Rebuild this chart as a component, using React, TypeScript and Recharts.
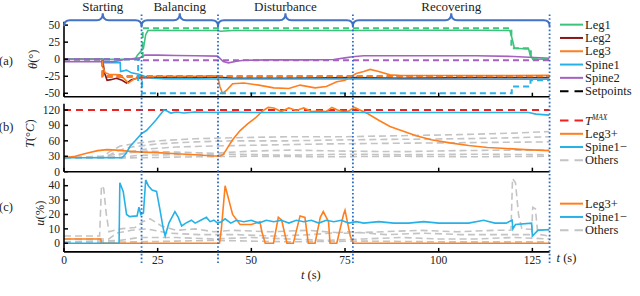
import React from "react";
import { LineChart, Line, XAxis, YAxis, ReferenceLine, ReferenceArea, Legend } from "recharts";

type Pt = [number, number];

const T_END = 129.6;
const phaseNames = ["Starting", "Balancing", "Disturbance", "Recovering"];
const phaseBounds = [0, 20.7, 41.1, 77.1, T_END];
const xTicks = [0, 25, 50, 75, 100, 125];
const angleTicks = [50, 25, 0, -25, -50];
const tempTicks = [0, 30, 60, 90, 120];
const dutyTicks = [0, 10, 20, 30, 40];

// (a) joint angles
const leg1: Pt[] = [[0,0],[19,0],[19.6,6],[20.4,11],[21.2,16],[21.8,36],[22.4,42],[25,42.5],[30,42],[41,42],[41.8,41],[45,42],[60,42],[77,42],[90,42.5],[110,42.5],[119,42],[119.6,30],[120.2,16],[124,15],[124.5,5],[125.2,0],[129.6,0]];
const leg1Set: Pt[] = [[0,0],[21,0],[21,45.5],[119.4,45.5],[119.4,16],[124.6,16],[124.6,0],[129.6,0]];
const leg2: Pt[] = [[0,0],[10.3,0],[10.8,-20],[11.5,-31],[12.5,-30],[14,-28],[15.5,-31],[16.7,-35],[18,-30],[19.5,-28],[21,-27],[25,-27],[30,-27],[41,-26],[45,-28],[60,-28],[77,-27],[90,-28],[110,-27],[129.6,-27]];
const leg2Set: Pt[] = [[0,0],[10.3,0],[10.3,-25.5],[129.6,-25.5]];
const leg3: Pt[] = [[0,0],[10,0],[10.3,-11],[11,-20],[12,-22],[15,-23],[16.3,-30],[17.2,-35],[18.5,-30],[20,-26],[25,-25],[30,-25],[35,-25],[41,-24.5],[41.6,-40],[42.3,-50],[43.5,-45],[45,-36],[48,-35],[52,-38],[56,-42],[60,-43],[63,-38],[67,-42],[70,-40],[72.8,-33],[75,-31],[76.4,-26],[78,-21],[80,-18],[81.7,-15],[84,-18],[87,-23],[90,-24],[100,-24],[110,-24],[120,-24],[129.6,-23.5]];
const leg3Set: Pt[] = [[0,0],[10.3,0],[10.3,-25],[129.6,-25]];
const spine1: Pt[] = [[0,0],[10.3,0],[10.5,-5],[15,-5],[15.1,-18],[16.7,-16],[18,-20],[20,-22],[22,-26],[24,-28],[27,-29],[30,-28.5],[41,-29],[45,-29],[60,-29],[80,-29],[100,-29.5],[120,-29.5],[129.6,-29.5]];
const spine1Set: Pt[] = [[0,0],[19.8,0],[19.8,-33],[20.8,-33],[20.8,-50],[119.5,-50],[119.5,-40],[124.5,-40],[124.5,-31],[129.6,-31]];
const spine2: Pt[] = [[0,-3.5],[13,-3.5],[15,-2],[16,-0.5],[18,0.5],[20.4,2],[21.6,6],[25,6],[30,5.5],[35,5],[41,4.5],[42.5,-3.5],[43.9,-5.3],[46,-3],[48,-1.6],[55,-1],[65,-1],[72,-0.5],[75,2],[77,3.7],[80,5],[90,5],[100,5],[110,5],[120,4],[129.6,1.5]];
const spine2Set: Pt[] = [[0,0],[20.8,0],[20.8,-1.5],[129.6,-1.5]];

// (b) temperatures
const tMax: Pt[] = [[0,120],[129.6,120]];
const leg3Temp: Pt[] = [[0,27],[3,30],[6,36],[9,41],[11.5,43],[14,42],[17,40],[20.7,38],[25,37],[30,35],[35,33],[39,31],[41.5,30],[42.5,33],[43.5,45],[45,62],[47,80],[49,93],[51,104],[53,118],[54.5,125],[56,124],[58,117],[60,124],[62,119],[64,124],[66,117],[68,118],[70,117],[71.5,125],[73,120],[74.5,117],[76,118],[77.5,125],[79,120],[81,113],[84,100],[87,88],[90,80],[94,70],[98,62],[103,56],[108,51],[113,47],[118,45],[123,43],[129.6,41]];
const spine1Temp: Pt[] = [[0,27],[5,27],[10,27.5],[15.5,27],[16.5,35],[17.6,49],[19,60],[20.7,74],[22,80],[23,88],[24.5,100],[25.6,110],[26.7,120],[27.5,118],[28.5,114],[30,116],[32,114],[35,116],[40,115],[45,116],[50,115],[60,115],[70,116],[80,115],[90,115],[100,115],[110,115],[120,115],[124,115],[126,112],[129.6,110]];
const othersTemp: Pt[][] = [
  [[0,27],[10,27],[12,38],[15,50],[20,56],[25,60],[35,64],[45,66],[60,68],[75,68],[90,70],[105,72],[120,75],[129.6,78]],
  [[0,26],[11,27],[14,40],[18,48],[25,54],[35,58],[45,60],[60,60],[75,62],[90,63],[105,64],[120,66],[129.6,68]],
  [[0,27],[13,28],[17,38],[22,44],[30,48],[40,50],[55,52],[70,54],[85,55],[100,56],[115,57],[129.6,58]],
  [[0,28],[10,30],[15,35],[22,40],[30,38],[40,36],[50,40],[60,42],[75,40],[90,39],[105,41],[120,42],[129.6,42]],
  [[0,27],[15,28],[20,32],[30,33],[45,34],[60,32],[75,34],[90,33],[110,34],[129.6,33]],
  [[0,26],[20,27],[35,29],[50,30],[70,29],[90,30],[110,29],[129.6,30]],
];

// (c) duty cycles
const leg3Duty: Pt[] = [[0,3],[9.8,3],[10,0],[41.5,0],[42,10],[43,40],[44,30],[45,20],[47,13],[50,13],[52.3,15],[52.8,8],[53.7,0],[55.9,0],[57.2,18],[58.1,16],[59.5,0],[61.2,0],[63,19],[64.3,18],[65.2,0],[67,0],[68.4,18],[69.2,22],[70.6,15],[71,0],[72.8,0],[74.6,20],[75,23],[76.4,5],[77.2,0],[129.6,0]];
const spine1Duty: Pt[] = [[0,0],[14.7,0],[14.9,42],[15.8,36],[16.7,20],[17.5,18.5],[19.5,19],[20,25],[20.5,20],[21.2,21],[21.8,44],[22.5,40],[23.5,37],[24.7,36],[25.5,25],[26.5,10],[27,5],[28,14],[29.6,22],[30.5,18],[31.4,12],[32.5,14],[34,16],[35,14],[36.5,16],[38,18],[39,15],[40,16],[41,14],[42,15],[43,17],[44.5,14],[46,16],[48,15],[50,16],[52,14],[54,16],[56,15],[58,16],[60,14],[62,16],[64,15],[66,16],[68,14],[70,16],[72,15],[74,16],[76,14],[78,15],[80,14],[84,15],[88,14],[92,14],[96,15],[100,14],[104,14],[108,14],[112,16],[115,14],[118,14],[119.6,16],[119.8,10],[120.5,13],[124.8,14],[125,5],[126.5,9],[129.6,9.5]];
const othersDuty: Pt[][] = [
  [[0,5],[9.5,5],[10,40],[10.6,38],[11.3,20],[12,8],[15,10],[19,11],[21,15],[23,17],[26,12],[30,9],[35,10],[40,8],[45,9],[55,8],[65,9],[75,7],[85,8],[95,9],[105,8],[115,9],[119.3,9],[119.7,45],[120.5,42],[121.3,20],[122.2,10],[129.6,9]],
  [[0,3],[12,3],[14,7],[18,9],[22,10],[28,7],[36,6],[46,6],[56,5],[66,6],[76,8],[86,6],[96,7],[106,6],[116,6],[124.8,6],[125.1,25],[125.8,24],[126.4,8],[127.2,6],[129.6,5]],
  [[0,1],[15,2],[20,4],[30,4],[40,3],[50,4],[60,3],[70,2],[80,3],[90,4],[100,3],[110,3],[120,4],[129.6,3]],
  [[0,0.5],[20,1],[40,2],[60,1],[80,1.5],[100,1],[129.6,1]],
];

const SERIF = '"Liberation Serif", "Times New Roman", Times, serif';
const GREEN = "#3cc47c";
const DARKRED = "#8b1414";
const ORANGE = "#ff7f1e";
const BLUE = "#27b1e6";
const PURPLE = "#a462c0";
const RED = "#ee2222";
const GRAY = "#c4c4c4";
const BRACE = "#4472c4";
const DOTS = "#2b6cc4";

const serif: React.CSSProperties = { fontFamily: SERIF };

const pts = (a: Pt[]) => a.map(([t, v]) => ({ t, v }));

const YTick = ({ x, y, payload }: any) => (
  <g>
    <line x1={x + 4} x2={x + 8} y1={y} y2={y} stroke="#000" strokeWidth={1.5} />
    <text x={x} y={y} dy={3.8} textAnchor="end" fontSize={11.5} fontFamily={SERIF} style={serif} fill="#222">
      {payload.value}
    </text>
  </g>
);

const XTick = ({ x, y, payload, showText }: any) => (
  <g>
    <line x1={x} x2={x} y1={y - 4} y2={y - 8} stroke="#000" strokeWidth={1.5} />
    {showText && (
      <text x={x} y={y} dy={8.5} textAnchor="middle" fontSize={11.5} fontFamily={SERIF} style={serif} fill="#222">
        {payload.value}
      </text>
    )}
  </g>
);

const SideLabel = ({ viewBox, tag, tagDy, nameX, nameDy, children }: any) => {
  const cy = viewBox.y + viewBox.height / 2;
  return (
    <g fill="#222">
      <text x={6} y={cy + tagDy} dy="0.35em" textAnchor="middle" fontSize={12.5} fontFamily={SERIF} style={serif}>{tag}</text>
      <text transform={`translate(${nameX},${cy + nameDy}) rotate(-90)`} textAnchor="middle" dy="0.35em" fontSize={12.5} fontFamily={SERIF} style={serif}>
        {children}
      </text>
    </g>
  );
};

const TimeLabel = ({ viewBox }: any) => {
  const { x, y, width } = viewBox;
  const tl = (
    <>
      <tspan fontStyle="italic">t</tspan> (s)
    </>
  );
  return (
    <g fill="#222" fontSize={12.5}>
      <text x={x + width / 2 + 4} y={y + 27} textAnchor="middle" fontFamily={SERIF} style={serif}>{tl}</text>
      <text x={x + width + 7} y={y + 10} fontFamily={SERIF} style={serif}>{tl}</text>
    </g>
  );
};

type Entry = { label: React.ReactNode; color: string; dash?: string };

const LegendBox = ({ entries, rowH }: { entries: Entry[]; rowH: number }) => (
  <svg width={82} height={entries.length * rowH} style={{ overflow: "visible", display: "block" }}>
    {entries.map((e, i) => {
      const cy = rowH * i + rowH / 2;
      return (
        <g key={i}>
          <line x1={2} x2={25} y1={cy} y2={cy} stroke={e.color} strokeWidth={2} strokeDasharray={e.dash} />
          <text x={27} y={cy} dy="0.33em" fontSize={12.5} fontFamily={SERIF} style={serif} fill="#222">{e.label}</text>
        </g>
      );
    })}
  </svg>
);

const legendA: Entry[] = [
  { label: "Leg1", color: GREEN },
  { label: "Leg2", color: DARKRED },
  { label: "Leg3", color: ORANGE },
  { label: "Spine1", color: BLUE },
  { label: "Spine2", color: PURPLE },
  { label: "Setpoints", color: "#000", dash: "8.5 6" },
];
const legendB: Entry[] = [
  {
    label: (
      <>
        <tspan fontStyle="italic">T</tspan>
        <tspan fontStyle="italic" fontSize={7.5} dy={-4.5}>MAX</tspan>
      </>
    ),
    color: RED,
    dash: "8.5 6",
  },
  { label: "Leg3+", color: ORANGE },
  { label: "Spine1\u2212", color: BLUE },
  { label: "Others", color: GRAY, dash: "8.5 6" },
];
const legendC: Entry[] = legendB.slice(1);

const W = 640;
const H = 296;
const LEFT = 64;
const RIGHT = 90.4;

const abs: React.CSSProperties = { position: "absolute", left: 0, top: 0 };

const axisLine = { stroke: "#000", strokeWidth: 1.6 };

const line = (key: string, data: Pt[], color: string, dash?: string, w = 1.6) => (
  <Line
    key={key}
    data={pts(data)}
    dataKey="v"
    type="linear"
    stroke={color}
    strokeWidth={w}
    strokeDasharray={dash}
    dot={false}
    activeDot={false}
    isAnimationActive={false}
  />
);

const xAxis = (showText: boolean, label?: React.ReactElement) => (
  <XAxis
    dataKey="t"
    type="number"
    domain={[0, T_END]}
    ticks={xTicks}
    interval={0}
    tickSize={0}
    tickMargin={4}
    height={10}
    axisLine={axisLine}
    tickLine={false}
    tick={<XTick showText={showText} />}
    allowDataOverflow
    label={label}
  />
);

const yAxis = (domain: number[], ticks: number[], label: React.ReactElement) => (
  <YAxis
    type="number"
    domain={domain}
    ticks={ticks}
    interval={0}
    width={LEFT}
    tickSize={0}
    tickMargin={4}
    axisLine={axisLine}
    tickLine={false}
    tick={<YTick />}
    allowDataOverflow
    label={label}
  />
);

const Brace = (props: any) => {
  const { x, y, width } = props;
  const mid = x + width / 2;
  const h = 7;
  const e = 13;
  const d = `M${x},${y + e} Q${x},${y + h} ${x + 6},${y + h} L${mid - 6},${y + h} Q${mid},${y + h} ${mid},${y} Q${mid},${y + h} ${mid + 6},${y + h} L${x + width - 6},${y + h} Q${x + width},${y + h} ${x + width},${y + e}`;
  return <path d={d} fill="none" stroke={BRACE} strokeWidth={2} />;
};

export default function App() {
  return (
    <div style={{ position: "absolute", left: 0, top: 0, width: W, height: H, background: "#fff", overflow: "hidden", fontFamily: SERIF }}>
      {/* (a) angles */}
      <LineChart width={W} height={H} style={abs} margin={{ top: 21.7, right: RIGHT, bottom: 189.3, left: 0 }}>
        {xAxis(false)}
        {yAxis([-55, 55], angleTicks,
          <SideLabel tag="(a)" tagDy={1.5} nameX={33} nameDy={0}>
            <tspan fontStyle="italic">θ</tspan>(°)
          </SideLabel>
        )}
        {line("l1", leg1, GREEN)}
        {line("l2", leg2, DARKRED)}
        {line("l3", leg3, ORANGE)}
        {line("s1", spine1, BLUE)}
        {line("s2", spine2, PURPLE)}
        {line("l2s", leg2Set, DARKRED, "6 4", 2)}
        {line("l1s", leg1Set, GREEN, "6 4", 2)}
        {line("l3s", leg3Set, ORANGE, "6 4", 2)}
        {line("s1s", spine1Set, BLUE, "6 4", 2)}
        {line("s2s", spine2Set, PURPLE, "6 4", 2)}
        <Legend
          layout="vertical"
          align="center"
          verticalAlign="middle"
          wrapperStyle={{ left: 558, top: 18.4, width: 82 }}
          content={() => <LegendBox entries={legendA} rowH={13.3} />}
        />
      </LineChart>

      {/* (b) temperatures */}
      <LineChart width={W} height={H} style={abs} margin={{ top: 103.8, right: RIGHT, bottom: 114.3, left: 0 }}>
        {xAxis(false)}
        {yAxis([0, 132], tempTicks,
          <SideLabel tag="(b)" tagDy={-11} nameX={30} nameDy={-4}>
            <tspan fontStyle="italic">T</tspan>(°<tspan fontStyle="italic">C</tspan>)
          </SideLabel>
        )}
        {othersTemp.map((o, i) => line(`ot${i}`, o, GRAY, "7 4"))}
        {line("tmax", tMax, RED, "7 5", 2)}
        {line("l3t", leg3Temp, ORANGE)}
        {line("s1t", spine1Temp, BLUE)}
        <Legend
          layout="vertical"
          align="center"
          verticalAlign="middle"
          wrapperStyle={{ left: 558, top: 113.9, width: 82 }}
          content={() => <LegendBox entries={legendB} rowH={13.2} />}
        />
      </LineChart>

      {/* (c) duty cycles */}
      <LineChart width={W} height={H} style={abs} margin={{ top: 178.5, right: RIGHT, bottom: 34.1, left: 0 }}>
        {xAxis(true, <TimeLabel />)}
        {yAxis([-6, 45], dutyTicks,
          <SideLabel tag="(c)" tagDy={-9} nameX={40} nameDy={-2}>
            <tspan fontStyle="italic">u</tspan>(%)
          </SideLabel>
        )}
        {othersDuty.map((o, i) => line(`od${i}`, o, GRAY, "7 4"))}
        {line("l3d", leg3Duty, ORANGE)}
        {line("s1d", spine1Duty, BLUE)}
        <Legend
          layout="vertical"
          align="center"
          verticalAlign="middle"
          wrapperStyle={{ left: 558, top: 197.4, width: 82 }}
          content={() => <LegendBox entries={legendC} rowH={13.3} />}
        />
      </LineChart>

      {/* phases: braces and dotted separators */}
      <LineChart
        width={W}
        height={H}
        style={abs}
        data={phaseBounds.map((t) => ({ t, v: 0.5 }))}
        margin={{ top: 13.3, right: RIGHT, bottom: 33, left: LEFT }}
      >
        <XAxis dataKey="t" type="number" domain={[0, T_END]} hide />
        <YAxis type="number" domain={[0, 1]} hide />
        <Line dataKey="v" stroke="none" dot={false} activeDot={false} isAnimationActive={false} />
        {phaseNames.map((name, i) => (
          <ReferenceArea
            key={name}
            x1={phaseBounds[i]}
            x2={phaseBounds[i + 1]}
            y1={0}
            y2={1}
            ifOverflow="visible"
            shape={<Brace />}
            label={{ value: name, position: "top", offset: 2.8, fontSize: 13, fontFamily: SERIF, style: serif, fill: "#222" }}
          />
        ))}
        {phaseBounds.slice(1).map((t) => (
          <ReferenceLine
            key={t}
            x={t}
            stroke={DOTS}
            strokeWidth={1.8}
            strokeDasharray="1.6 2.2"
            ifOverflow="visible"
          />
        ))}
      </LineChart>
    </div>
  );
}
